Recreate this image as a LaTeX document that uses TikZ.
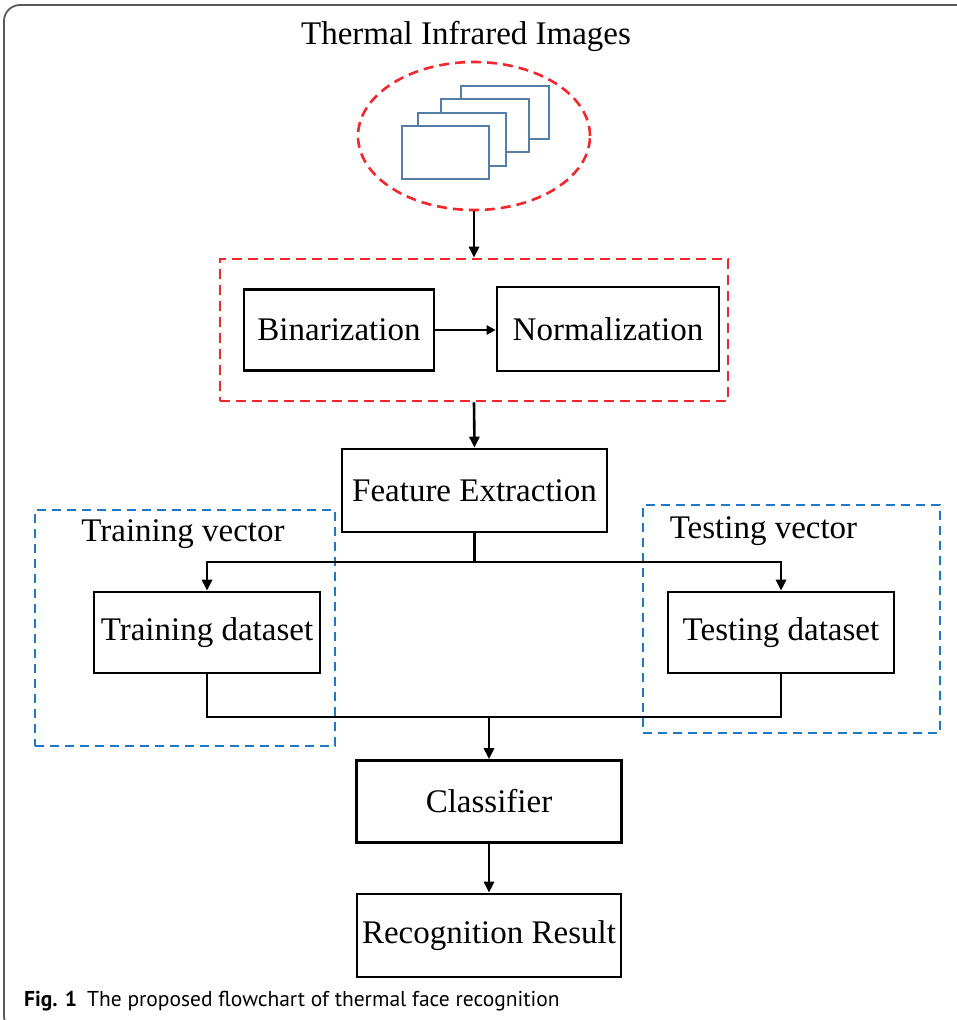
\documentclass[tikz,border=0pt]{standalone}
\usepackage{fontspec}
\setmainfont{Liberation Serif}
\newfontfamily\capfont{PT Sans}
\usetikzlibrary{shapes.geometric,arrows.meta}
\definecolor{dred}{RGB}{240,40,45}
\definecolor{dblue}{RGB}{30,120,200}
\definecolor{steel}{RGB}{85,125,170}
\definecolor{frame}{RGB}{90,90,90}
\tikzset{
  box/.style={draw=black, line width=2.6pt, fill=white, inner sep=0pt, align=center,
    font=\fontsize{33}{36}\selectfont},
  lbl/.style={inner sep=0pt, font=\fontsize{33}{36}\selectfont},
  reddash/.style={draw=dred, line width=2.6pt, dash pattern=on 10pt off 6pt},
  bluedash/.style={draw=dblue, line width=2.6pt, dash pattern=on 9pt off 6pt},
  conn/.style={draw=black, line width=2.6pt},
  arr/.style={conn, -{Triangle[length=11pt,width=10pt]}},
  sarr/.style={conn, -{Triangle[length=9pt,width=9pt]}},
  pic/.style={draw=steel, line width=2.2pt, fill=white}
}
\begin{document}
\begin{tikzpicture}[x=1pt,y=-1pt]
\useasboundingbox (0,0) rectangle (957,1020);
\begin{scope}
  \clip (0,0) rectangle (957,1020);
  \draw[frame, line width=1.8pt, rounded corners=16pt] (4,5) rectangle (1000,1032);
\end{scope}

\node[lbl, anchor=base] (title) at (466,44) {Thermal Infrared Images};

\node[ellipse, reddash, minimum width=232pt, minimum height=148pt, inner sep=0pt] (img) at (474,136) {};
\draw[pic] (461,86) rectangle (549,139);
\draw[pic] (441,99) rectangle (529,152);
\draw[pic] (418,113) rectangle (506,166);
\draw[pic] (402,126) rectangle (489,179);

\node[reddash, minimum width=508pt, minimum height=142pt, inner sep=0pt] (pre) at (474,330) {};
\node[box, minimum width=190pt, minimum height=81pt] (bin) at (339,330) {Binarization};
\node[box, minimum width=222pt, minimum height=84pt] (norm) at (608,329) {Normalization};

\node[box, minimum width=265pt, minimum height=83pt] (fe) at (474.5,490.5) {Feature Extraction};

\node[bluedash, minimum width=300pt, minimum height=236pt, inner sep=0pt] (trainvec) at (185,628) {};
\node[lbl, anchor=base] (trainlbl) at (183,541) {Training vector};
\node[box, minimum width=226pt, minimum height=81pt] (train) at (207,632.5) {Training dataset};

\node[bluedash, minimum width=297pt, minimum height=228pt, inner sep=0pt] (testvec) at (791.5,619) {};
\node[lbl, anchor=base] (testlbl) at (763.5,538) {Testing vector};
\node[box, minimum width=226pt, minimum height=81pt] (test) at (781,632.5) {Testing dataset};

\node[box, minimum width=265pt, minimum height=82pt] (cls) at (489,801.5) {Classifier};
\node[box, minimum width=264pt, minimum height=83pt] (rr) at (489,935.5) {Recognition Result};

\node[anchor=base west, inner sep=0pt, font=\capfont\fontsize{21.5}{24}\selectfont] (cap) at (24,1006)
  {\textbf{Fig. 1}\hspace{10pt}The proposed flowchart of thermal face recognition};

\draw[arr] (img.south) -- (pre.north);
\draw[sarr] (bin.east) -- (bin.east -| norm.west);
\draw[arr] (pre.south) -- (fe.north);
\coordinate (split) at (474.5,562);
\draw[conn] (fe.south) -- (split);
\draw[arr] (split) -| (train.north);
\draw[arr] (split) -| (test.north);
\coordinate (merge) at (489,717);
\draw[conn] (train.south) |- (merge);
\draw[conn] (test.south) |- (merge);
\draw[arr] (merge) -- (cls.north);
\draw[arr] (cls.south) -- (rr.north);
\end{tikzpicture}
\end{document}
